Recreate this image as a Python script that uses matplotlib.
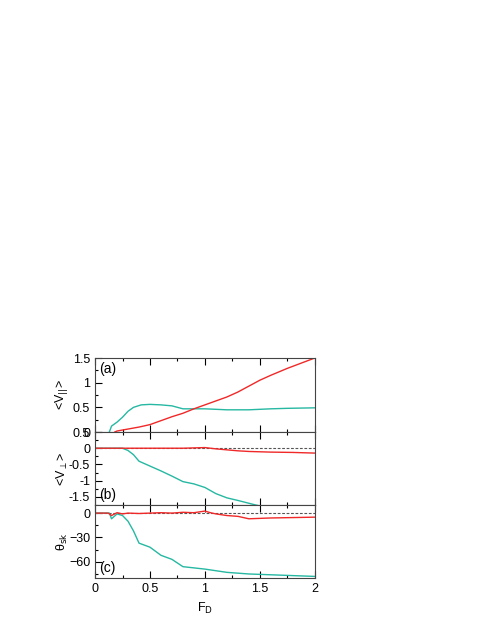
import numpy as np
import matplotlib
matplotlib.use("Agg")
import matplotlib.pyplot as plt
from matplotlib.ticker import MultipleLocator

plt.rcParams['font.family'] = ['Liberation Sans', 'DejaVu Sans']
plt.rcParams['font.size'] = 9

# (a) <V_par>
fa_teal = [0.13, 0.15, 0.2, 0.25, 0.3, 0.35, 0.42, 0.5, 0.6, 0.7, 0.8, 0.9, 1.0, 1.1, 1.2, 1.3, 1.4, 1.5, 1.6, 1.75, 2.0]
va_teal = [0.0, 0.12, 0.2, 0.3, 0.42, 0.5, 0.55, 0.56, 0.55, 0.53, 0.47, 0.47, 0.47, 0.46, 0.45, 0.45, 0.45, 0.46, 0.47, 0.48, 0.49]
fa_red = [0.18, 0.2, 0.3, 0.4, 0.5, 0.6, 0.7, 0.8, 0.9, 1.0, 1.1, 1.2, 1.3, 1.4, 1.5, 1.6, 1.75, 2.0]
va_red = [0.0, 0.02, 0.06, 0.1, 0.15, 0.23, 0.31, 0.38, 0.47, 0.55, 0.63, 0.71, 0.81, 0.93, 1.05, 1.15, 1.29, 1.5]

# (b) <V_perp>
fb_teal = [0.0, 0.25, 0.3, 0.35, 0.4, 0.5, 0.6, 0.7, 0.8, 0.9, 1.0, 1.1, 1.2, 1.3, 1.45, 1.5]
vb_teal = [0.0, 0.0, -0.07, -0.2, -0.4, -0.55, -0.7, -0.86, -1.03, -1.1, -1.21, -1.4, -1.53, -1.61, -1.74, -1.78]
fb_red = [0.0, 0.2, 0.4, 0.6, 0.8, 0.9, 1.0, 1.1, 1.2, 1.3, 1.4, 1.6, 1.8, 2.0]
vb_red = [0.0, 0.0, 0.0, 0.0, 0.0, 0.01, 0.02, -0.02, -0.05, -0.08, -0.1, -0.12, -0.13, -0.15]

# (c) theta_sk
fc_teal = [0.0, 0.13, 0.15, 0.2, 0.25, 0.3, 0.35, 0.4, 0.5, 0.6, 0.7, 0.8, 1.0, 1.2, 1.4, 1.6, 1.8, 2.0]
vc_teal = [0.0, 0.0, -7, -1, -3, -10, -22, -37, -42, -52, -57, -66, -69, -73, -75, -76, -77, -78]
fc_red = [0.0, 0.12, 0.15, 0.2, 0.25, 0.3, 0.4, 0.5, 0.6, 0.7, 0.8, 0.9, 1.0, 1.05, 1.1, 1.2, 1.3, 1.4, 1.6, 1.8, 2.0]
vc_red = [0.0, 0.0, -3, 0.5, -1, 0.0, -0.5, 0.0, 0.5, 0.0, 1.0, 0.5, 2.5, 0.5, -1, -3, -4, -7, -6, -5.5, -5]

teal = '#26b8a2'
red = '#f02828'

fig = plt.figure(figsize=(4.85, 6.27), dpi=100)
left, width = 0.196, 0.453
axa = fig.add_axes([left, 0.311, width, 0.118])
axb = fig.add_axes([left, 0.1946, width, 0.1164], sharex=axa)
axc = fig.add_axes([left, 0.0781, width, 0.1165], sharex=axa)

axa.plot(fa_teal, va_teal, color=teal, lw=1)
axa.plot(fa_red, va_red, color=red, lw=1)
axa.set_ylim(0, 1.5)
axa.set_yticks([0, 0.5, 1, 1.5])
axa.set_yticklabels(['0', '0.5', '1', '1.5'])
axa.yaxis.set_minor_locator(MultipleLocator(0.25))
axa.set_ylabel(r'<V$_{||}$>')
axa.text(0.02, 0.95, '(a)', transform=axa.transAxes, va='top', ha='left', fontsize=10)

axb.axhline(0, color='#555555', lw=0.8, ls=(0, (2.5, 1.5)))
axb.plot(fb_teal, vb_teal, color=teal, lw=1)
axb.plot(fb_red, vb_red, color=red, lw=1)
axb.set_ylim(-1.75, 0.5)
axb.set_yticks([-1.5, -1, -0.5, 0, 0.5])
axb.set_yticklabels(['-1.5', '-1', '-0.5', '0', '0.5'])
axb.yaxis.set_minor_locator(MultipleLocator(0.25))
axb.set_ylabel(r'<V$_{\perp}$>')
axb.text(0.02, 0.04, '(b)', transform=axb.transAxes, va='bottom', ha='left', fontsize=10)

axc.axhline(0, color='#555555', lw=0.8, ls=(0, (2.5, 1.5)))
axc.plot(fc_teal, vc_teal, color=teal, lw=1)
axc.plot(fc_red, vc_red, color=red, lw=1)
axc.set_ylim(-80, 10)
axc.set_yticks([-60, -30, 0])
axc.yaxis.set_minor_locator(MultipleLocator(15))
axc.set_ylabel(r'θ$_{\rm sk}$')
axc.text(0.02, 0.04, '(c)', transform=axc.transAxes, va='bottom', ha='left', fontsize=10)

axc.set_xlim(0, 2)
axc.set_xticks([0, 0.5, 1, 1.5, 2])
axc.set_xticklabels(['0', '0.5', '1', '1.5', '2'])
axc.xaxis.set_minor_locator(MultipleLocator(0.25))
axc.set_xlabel(r'F$_{\rm D}$')

for ax in (axa, axb, axc):
    ax.tick_params(which='major', direction='in', length=5, width=0.8, top=True, right=False, labelsize=9)
    ax.tick_params(which='minor', direction='in', length=2.5, width=0.8, top=True, right=False)
    for s in ax.spines.values():
        s.set_linewidth(0.8)
        s.set_color('#444444')
    ax.yaxis.set_label_coords(-0.115, 0.5)
for ax in (axa, axb):
    plt.setp(ax.get_xticklabels(), visible=False)

fig.savefig('out.png', dpi=100)
